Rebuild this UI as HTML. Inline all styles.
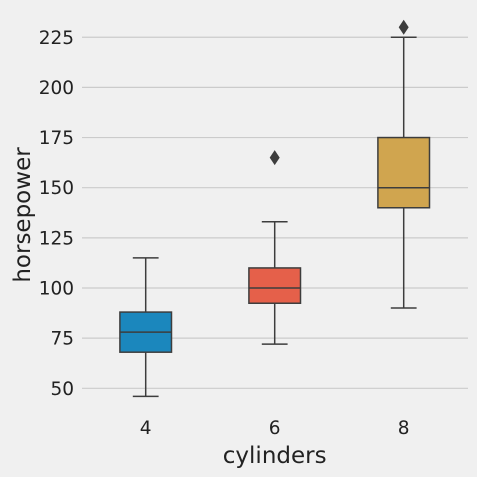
<!DOCTYPE html>
<html><head><meta charset="utf-8"><style>
html,body{margin:0;padding:0;background:#f0f0f0;}
svg{display:block;font-family:"DejaVu Sans","Liberation Sans",sans-serif;}
</style></head><body>
<svg id="chart" width="477" height="477" viewBox="0 0 477 477">
<rect width="477" height="477" fill="#f0f0f0"/>
<g id="grid"></g><g id="boxes"></g><g id="axes"></g>
</svg>
<script>
const categories = ["4","6","8"];
const q1 = [68, 92.4, 140];
const medians = [78, 100, 150];
const q3 = [88, 110, 175];
const whiskerLo = [46, 72, 90];
const whiskerHi = [115, 133, 225];
const outliers = [[], [165], [230]];
const colors = ["#1b87bd", "#e5604a", "#d0a54f"];
const yTicks = [50, 75, 100, 125, 150, 175, 200, 225];

const NS = "http://www.w3.org/2000/svg";
function y(v){ return 388.3 - (v - 50) * 2.006; }
function x(i){ return 145.7 + i * 129; }
function mk(tag, attrs, parent){
  const e = document.createElementNS(NS, tag);
  for (const k in attrs) e.setAttribute(k, attrs[k]);
  parent.appendChild(e); return e;
}
const grid = document.getElementById("grid");
const boxes = document.getElementById("boxes");
const axes = document.getElementById("axes");
yTicks.forEach(t => {
  const l = mk("line", {x1:82, x2:468, y1:y(t), y2:y(t), stroke:"#cbcbcb", "stroke-width":1.2}, grid);
  
  
  const tx = mk("text", {x:74, y:y(t)+6.5, "text-anchor":"end", "font-size":18.5, fill:"#222"}, axes);
  tx.textContent = t;
  
  
});
const bw = 51.6, cw = 25.8, lc = "#3d3d3d";
categories.forEach((c, i) => {
  const cx = x(i);
  const g = mk("g", {}, boxes);
  
  
  mk("line", {x1:cx, x2:cx, y1:y(q1[i]), y2:y(whiskerLo[i]), stroke:lc, "stroke-width":1.5}, g);
  mk("line", {x1:cx, x2:cx, y1:y(q3[i]), y2:y(whiskerHi[i]), stroke:lc, "stroke-width":1.5}, g);
  mk("line", {x1:cx-cw/2, x2:cx+cw/2, y1:y(whiskerLo[i]), y2:y(whiskerLo[i]), stroke:lc, "stroke-width":1.5}, g);
  mk("line", {x1:cx-cw/2, x2:cx+cw/2, y1:y(whiskerHi[i]), y2:y(whiskerHi[i]), stroke:lc, "stroke-width":1.5}, g);
  mk("rect", {x:cx-bw/2, y:y(q3[i]), width:bw, height:y(q1[i])-y(q3[i]), fill:colors[i], stroke:lc, "stroke-width":1.5}, g);
  mk("line", {x1:cx-bw/2, x2:cx+bw/2, y1:y(medians[i]), y2:y(medians[i]), stroke:lc, "stroke-width":1.5}, g);
  outliers[i].forEach(o => {
    const p = mk("path", {d:`M${cx} ${y(o)-7.5} L${cx+5} ${y(o)} L${cx} ${y(o)+7.5} L${cx-5} ${y(o)} Z`, fill:lc}, g);
    
    
  });
  const tx = mk("text", {x:cx, y:434, "text-anchor":"middle", "font-size":18.5, fill:"#222"}, axes);
  tx.textContent = c;
  
  
});
const xl = mk("text", {x:274.7, y:463, "text-anchor":"middle", "font-size":23, fill:"#222"}, axes);
xl.textContent = "cylinders";


const yl = mk("text", {x:0, y:0, "text-anchor":"middle", "font-size":23, fill:"#222", transform:"translate(30,215) rotate(-90)"}, axes);
yl.textContent = "horsepower";


</script>
</body></html>
